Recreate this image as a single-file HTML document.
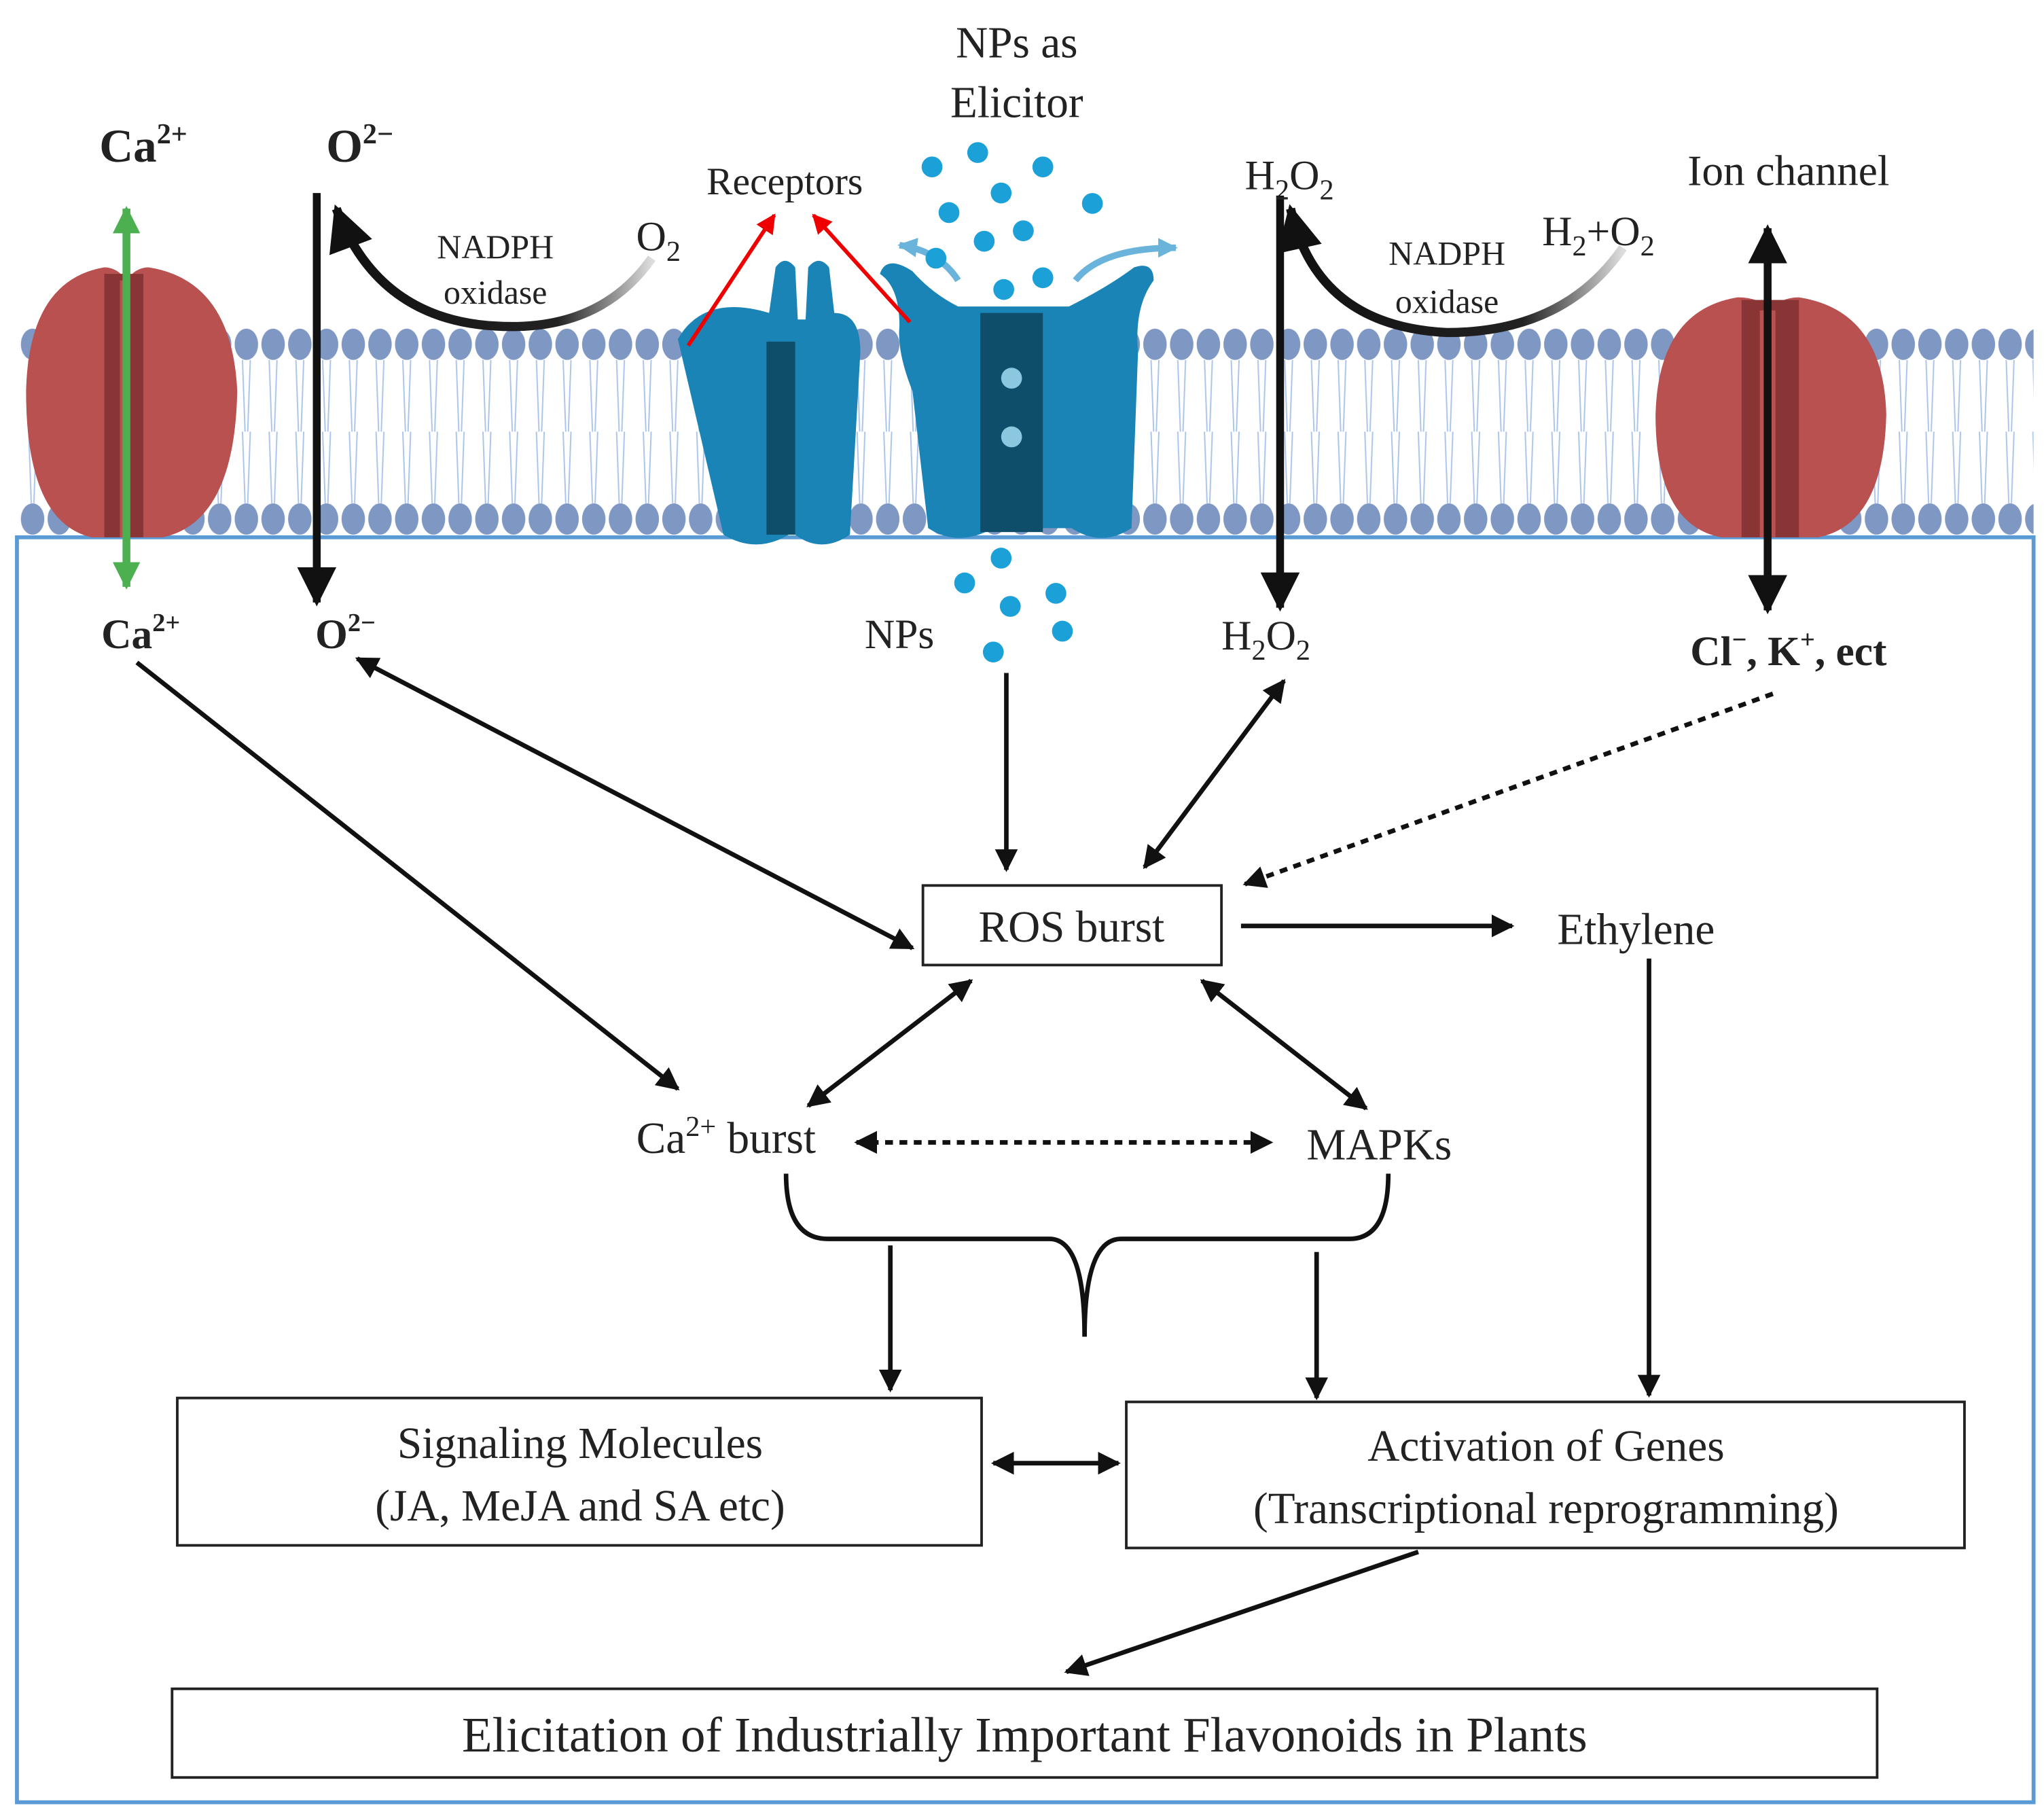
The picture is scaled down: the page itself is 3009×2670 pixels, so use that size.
<!DOCTYPE html>
<html><head><meta charset="utf-8"><style>
html,body{margin:0;padding:0;background:#fff}
svg{display:block}
text{font-family:"Liberation Serif",serif;fill:#222}
</style></head><body>
<svg width="3009" height="2670" viewBox="0 0 1568 1391" preserveAspectRatio="none" xmlns="http://www.w3.org/2000/svg">
<defs>
<marker id="a" viewBox="0 0 10 10" refX="9" refY="5" markerWidth="5" markerHeight="5" orient="auto-start-reverse"><path d="M0,0L10,5L0,10z" fill="#111"/></marker>
<marker id="r" viewBox="0 0 10 10" refX="9" refY="5" markerWidth="5" markerHeight="5" orient="auto-start-reverse"><path d="M0,0L10,5L0,10z" fill="#e00"/></marker>
<marker id="g" viewBox="0 0 10 10" refX="9" refY="5" markerWidth="3.5" markerHeight="3.5" orient="auto-start-reverse"><path d="M0,0L10,5L0,10z" fill="#4caf50"/></marker>
<marker id="lb" viewBox="0 0 10 10" refX="9" refY="5" markerWidth="3" markerHeight="3" orient="auto-start-reverse"><path d="M0,0L10,5L0,10z" fill="#6ab4dc"/></marker>
<linearGradient id="cg" x1="0" x2="1"><stop offset="0" stop-color="#111"/><stop offset="0.7" stop-color="#222"/><stop offset="1" stop-color="#ddd"/></linearGradient>
<pattern id="heads1" x="15" y="250" width="20.5" height="28" patternUnits="userSpaceOnUse"><ellipse cx="10" cy="14" rx="9" ry="12" fill="#7f97c3"/></pattern>
<pattern id="heads2" x="15" y="384" width="20.5" height="28" patternUnits="userSpaceOnUse"><ellipse cx="10" cy="14" rx="9" ry="12" fill="#7f97c3"/></pattern>
<pattern id="tails" x="15" y="276" width="20.5" height="55" patternUnits="userSpaceOnUse"><path d="M7,0L9,55M13,0L11,55" stroke="#a9c3ea" stroke-width="1"/></pattern>
</defs>
<!-- membrane -->
<rect x="15" y="276" width="1545" height="110" fill="url(#tails)"/>
<rect x="15" y="250" width="1545" height="28" fill="url(#heads1)"/>
<rect x="15" y="384" width="1545" height="28" fill="url(#heads2)"/>
<!-- outer box -->
<rect x="13" y="412" width="1547" height="970" fill="none" stroke="#5b9bd5" stroke-width="3"/>
<!-- left channel -->
<path d="M20,300 Q22,215 80,205 Q90,205 97,215 Q104,205 114,205 Q178,215 182,300 Q180,400 125,412 L70,412 Q20,400 20,300Z" fill="#b85150"/>
<rect x="80" y="210" width="30" height="202" fill="#8a3535"/>
<rect x="92" y="215" width="6" height="197" fill="#b85150"/>
<line x1="97" y1="160" x2="97" y2="450" stroke="#4caf50" stroke-width="6" marker-start="url(#g)" marker-end="url(#g)"/>
<!-- right channel -->
<path d="M1270,318 Q1272,238 1333,228 Q1350,228 1358,238 Q1366,228 1380,228 Q1445,238 1447,318 Q1445,402 1395,412 L1320,412 Q1270,402 1270,318Z" fill="#b85150"/>
<rect x="1336" y="230" width="44" height="182" fill="#8a3535"/>
<rect x="1350" y="238" width="12" height="174" fill="#b85150"/>
<line x1="1356" y1="175" x2="1356" y2="468" stroke="#111" stroke-width="6" marker-start="url(#a)" marker-end="url(#a)"/>
<!-- receptors -->
<path d="M520,260 Q540,225 590,240 L595,205 Q602,195 610,205 L612,245 L618,245 L620,205 Q628,195 636,205 L640,240 Q660,240 660,270 L652,410 Q630,425 610,410 L605,410 Q580,425 555,410 Z" fill="#1b84b6"/>
<rect x="588" y="262" width="22" height="148" fill="#0e4e6b"/>
<path d="M690,250 Q690,220 675,210 Q680,195 700,208 Q715,225 735,235 L820,235 Q850,220 870,205 Q885,200 885,215 Q870,235 873,270 L868,405 Q845,420 822,405 L762,405 Q735,420 712,405 L700,300 Q688,270 690,250Z" fill="#1b84b6"/>
<rect x="752" y="240" width="48" height="168" fill="#0e4e6b"/>
<circle cx="776" cy="290" r="8" fill="#8cc7e0"/><circle cx="776" cy="335" r="8" fill="#8cc7e0"/>
<path d="M735,215 Q720,192 690,188" fill="none" stroke="#6ab4dc" stroke-width="5" marker-end="url(#lb)"/>
<path d="M825,215 Q845,190 902,190" fill="none" stroke="#6ab4dc" stroke-width="5" marker-end="url(#lb)"/>
<line x1="528" y1="265" x2="594" y2="165" stroke="#e00" stroke-width="3" marker-end="url(#r)"/>
<line x1="698" y1="247" x2="624" y2="165" stroke="#e00" stroke-width="3" marker-end="url(#r)"/>
<!-- particles -->
<g fill="#1ca0d8">
<circle cx="715" cy="128" r="8"/><circle cx="750" cy="117" r="8"/><circle cx="800" cy="128" r="8"/>
<circle cx="728" cy="163" r="8"/><circle cx="768" cy="148" r="8"/><circle cx="838" cy="156" r="8"/>
<circle cx="755" cy="185" r="8"/><circle cx="785" cy="177" r="8"/><circle cx="718" cy="198" r="8"/>
<circle cx="800" cy="213" r="8"/><circle cx="770" cy="222" r="8"/>
<circle cx="768" cy="428" r="8"/><circle cx="740" cy="447" r="8"/><circle cx="810" cy="455" r="8"/>
<circle cx="775" cy="465" r="8"/><circle cx="815" cy="484" r="8"/><circle cx="762" cy="500" r="8"/>
</g>
<!-- O2- arrows -->
<line x1="243" y1="148" x2="243" y2="462" stroke="#111" stroke-width="6" marker-end="url(#a)"/>
<path d="M500,198 Q460,255 380,250 Q290,245 258,160" fill="none" stroke="url(#cg)" stroke-width="7" marker-end="url(#a)"/>
<line x1="982" y1="150" x2="982" y2="466" stroke="#111" stroke-width="6" marker-end="url(#a)"/>
<path d="M1245,190 Q1200,255 1110,255 Q1010,250 990,160" fill="none" stroke="url(#cg)" stroke-width="7" marker-end="url(#a)"/>
<!-- top labels -->
<text x="110" y="124" font-size="36" font-weight="bold" text-anchor="middle">Ca<tspan font-size="22" dy="-14">2+</tspan></text>
<text x="276" y="124" font-size="36" font-weight="bold" text-anchor="middle">O<tspan font-size="22" dy="-14">2−</tspan></text>
<text x="380" y="198" font-size="26" text-anchor="middle" fill="#444">NADPH</text>
<text x="380" y="233" font-size="26" text-anchor="middle" fill="#444">oxidase</text>
<text x="488" y="192" font-size="32">O<tspan font-size="22" dy="8">2</tspan></text>
<text x="602" y="149" font-size="30" text-anchor="middle">Receptors</text>
<text x="780" y="44" font-size="34" text-anchor="middle">NPs as</text>
<text x="780" y="90" font-size="34" text-anchor="middle">Elicitor</text>
<text x="955" y="145" font-size="32">H<tspan font-size="22" dy="8">2</tspan><tspan dy="-8">O</tspan><tspan font-size="22" dy="8">2</tspan></text>
<text x="1110" y="203" font-size="26" text-anchor="middle" fill="#444">NADPH</text>
<text x="1110" y="240" font-size="26" text-anchor="middle" fill="#444">oxidase</text>
<text x="1183" y="188" font-size="32">H<tspan font-size="22" dy="8">2</tspan><tspan dy="-8">+O</tspan><tspan font-size="22" dy="8">2</tspan></text>
<text x="1372" y="142" font-size="33" text-anchor="middle">Ion channel</text>
<!-- lower labels -->
<text x="108" y="497" font-size="32" font-weight="bold" text-anchor="middle">Ca<tspan font-size="20" dy="-13">2+</tspan></text>
<text x="265" y="497" font-size="32" font-weight="bold" text-anchor="middle">O<tspan font-size="20" dy="-13">2−</tspan></text>
<text x="690" y="497" font-size="32" text-anchor="middle">NPs</text>
<text x="937" y="498" font-size="32">H<tspan font-size="22" dy="8">2</tspan><tspan dy="-8">O</tspan><tspan font-size="22" dy="8">2</tspan></text>
<text x="1372" y="510" font-size="32" font-weight="bold" text-anchor="middle">Cl<tspan font-size="20" dy="-13">−</tspan><tspan dy="13">, K</tspan><tspan font-size="20" dy="-13">+</tspan><tspan dy="13">, ect</tspan></text>
<!-- ROS box -->
<rect x="708" y="679" width="229" height="61" fill="none" stroke="#222" stroke-width="2"/>
<text x="822" y="722" font-size="34" text-anchor="middle">ROS burst</text>
<text x="1255" y="724" font-size="34" text-anchor="middle">Ethylene</text>
<g stroke="#111" stroke-width="3.5" fill="none">
<line x1="105" y1="508" x2="520" y2="835" marker-end="url(#a)"/>
<line x1="274" y1="505" x2="700" y2="727" marker-start="url(#a)" marker-end="url(#a)"/>
<line x1="772" y1="516" x2="772" y2="667" marker-end="url(#a)"/>
<line x1="985" y1="522" x2="878" y2="665" marker-start="url(#a)" marker-end="url(#a)"/>
<line x1="1360" y1="532" x2="955" y2="678" stroke-dasharray="6,5" marker-end="url(#a)"/>
<line x1="952" y1="710" x2="1160" y2="710" marker-end="url(#a)"/>
<line x1="745" y1="752" x2="620" y2="848" marker-start="url(#a)" marker-end="url(#a)"/>
<line x1="922" y1="752" x2="1048" y2="850" marker-start="url(#a)" marker-end="url(#a)"/>
<line x1="657" y1="876" x2="975" y2="876" stroke-dasharray="6,5" marker-start="url(#a)" marker-end="url(#a)"/>
<path d="M603,900 Q603,950 635,950 L805,950 Q832,950 832,1025 Q832,950 860,950 L1035,950 Q1065,950 1065,900"/>
<line x1="683" y1="955" x2="683" y2="1066" marker-end="url(#a)"/>
<line x1="1010" y1="960" x2="1010" y2="1072" marker-end="url(#a)"/>
<line x1="1265" y1="735" x2="1265" y2="1070" marker-end="url(#a)"/>
<line x1="762" y1="1122" x2="858" y2="1122" marker-start="url(#a)" marker-end="url(#a)"/>
<line x1="1088" y1="1190" x2="818" y2="1282" marker-end="url(#a)"/>
</g>
<text x="557" y="884" font-size="34" text-anchor="middle">Ca<tspan font-size="22" dy="-13">2+</tspan><tspan dy="13"> burst</tspan></text>
<text x="1058" y="889" font-size="34" text-anchor="middle">MAPKs</text>
<!-- boxes -->
<rect x="136" y="1072" width="617" height="113" fill="none" stroke="#222" stroke-width="2"/>
<text x="445" y="1118" font-size="34" text-anchor="middle">Signaling Molecules</text>
<text x="445" y="1166" font-size="34" text-anchor="middle">(JA, MeJA and SA etc)</text>
<rect x="864" y="1075" width="643" height="112" fill="none" stroke="#222" stroke-width="2"/>
<text x="1186" y="1120" font-size="34" text-anchor="middle">Activation of Genes</text>
<text x="1186" y="1168" font-size="34" text-anchor="middle">(Transcriptional reprogramming)</text>
<rect x="132" y="1295" width="1308" height="68" fill="none" stroke="#222" stroke-width="2"/>
<text x="786" y="1343" font-size="38" text-anchor="middle">Elicitation of Industrially Important Flavonoids in Plants</text>
</svg>
</body></html>
